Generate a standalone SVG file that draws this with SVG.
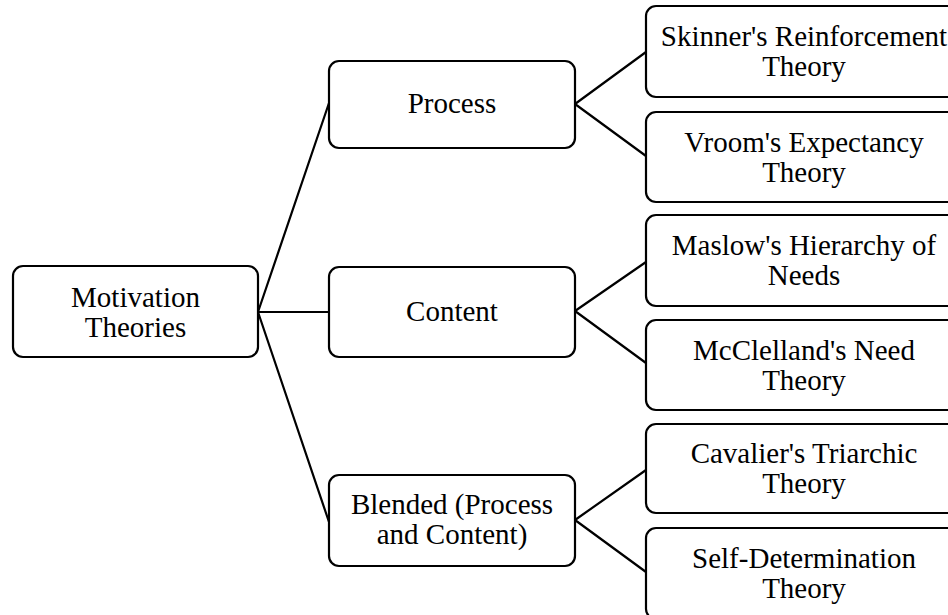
<svg xmlns="http://www.w3.org/2000/svg" width="948" height="615" viewBox="0 0 948 615">
<style>
.box{fill:#fff;stroke:#000;stroke-width:2.2}
.t{font-family:"Liberation Serif","Times New Roman",serif;font-size:29px;fill:#000;text-anchor:middle}
.c{fill:none;stroke:#000;stroke-width:2.2}
</style>
<rect width="948" height="615" fill="#fff"/>
<g id="connectors">
<path class="c" d="M258,312 L329,103 M258,312 L329,312 M258,312 L329,522"/>
<path class="c" d="M575,104 L646,52 M575,104 L646,156"/>
<path class="c" d="M575,311 L646,262 M575,311 L646,363"/>
<path class="c" d="M575,520 L646,470 M575,520 L646,572"/>
</g>
<g id="root"><rect class="box" x="13" y="266" width="245" height="91" rx="10"/>
<text class="t" x="135.5" y="307">Motivation</text><text class="t" x="135.5" y="337">Theories</text></g>
<g id="process"><rect class="box" x="329" y="61" width="246" height="87" rx="10"/>
<text class="t" x="452" y="113">Process</text></g>
<g id="content"><rect class="box" x="329" y="267" width="246" height="90" rx="10"/>
<text class="t" x="452" y="321">Content</text></g>
<g id="blended"><rect class="box" x="329" y="475" width="246" height="91" rx="10"/>
<text class="t" x="452" y="514">Blended (Process</text><text class="t" x="452" y="544">and Content)</text></g>
<g id="skinner"><rect class="box" x="646" y="6" width="316" height="91" rx="10"/>
<text class="t" x="804" y="46">Skinner's Reinforcement</text><text class="t" x="804" y="76">Theory</text></g>
<g id="vroom"><rect class="box" x="646" y="112" width="316" height="90" rx="10"/>
<text class="t" x="804" y="152">Vroom's Expectancy</text><text class="t" x="804" y="182">Theory</text></g>
<g id="maslow"><rect class="box" x="646" y="215" width="316" height="91" rx="10"/>
<text class="t" x="804" y="255">Maslow's Hierarchy of</text><text class="t" x="804" y="285">Needs</text></g>
<g id="mcclelland"><rect class="box" x="646" y="320" width="316" height="90" rx="10"/>
<text class="t" x="804" y="360">McClelland's Need</text><text class="t" x="804" y="390">Theory</text></g>
<g id="cavalier"><rect class="box" x="646" y="424" width="316" height="89" rx="10"/>
<text class="t" x="804" y="463">Cavalier's Triarchic</text><text class="t" x="804" y="493">Theory</text></g>
<g id="sdt"><rect class="box" x="646" y="528" width="316" height="91" rx="10"/>
<text class="t" x="804" y="568">Self-Determination</text><text class="t" x="804" y="598">Theory</text></g>
</svg>
